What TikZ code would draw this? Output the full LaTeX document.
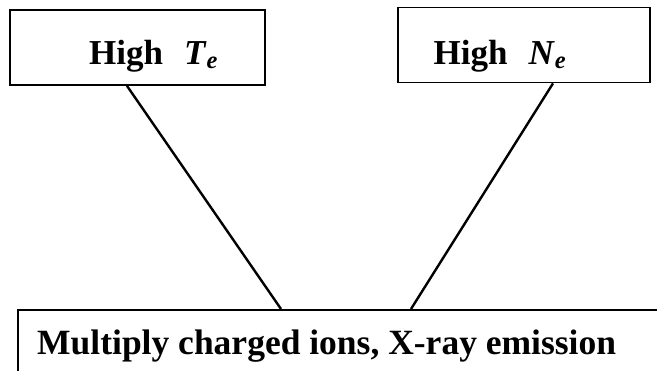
\documentclass[tikz,border=0pt]{standalone}
\usepackage{fontspec}
\setmainfont{Liberation Serif}
\usetikzlibrary{positioning}

\begin{document}
\begin{tikzpicture}[x=1pt, y=-1pt,
        box/.style={rectangle, draw=black, line width=1.8pt, inner sep=0pt},
        lbl/.style={font=\fontsize{35}{42}\selectfont\bfseries, inner sep=0pt},
        link/.style={line width=2.4pt, black}]
      \useasboundingbox (0,0) rectangle (657,371);
      \clip (0,0) rectangle (657,371);
      % parameter boxes
      \node[box, minimum width=255pt, minimum height=75pt] (te) at (137.5,47.5) {};
      \node[box, minimum width=252pt, minimum height=75pt] (ne) at (524,45) {};
      \node[lbl] (tetxt) at ([xshift=16pt,yshift=-8.5pt]te.center) {High\hspace{0.6em}\textit{T}\textsubscript{\textit{e}}};
      \node[lbl] (netxt) at ([xshift=-24pt,yshift=-11pt]ne.center) {High\hspace{0.6em}\textit{N}\textsubscript{\textit{e}}};
      % result box, runs off the page
      \node[box, anchor=north west, minimum width=680pt, minimum height=72pt] (ions) at (17,309) {};
      \node[lbl, font=\fontsize{35.5}{42}\selectfont\bfseries, anchor=west] (ionstxt)
        at ([xshift=20pt]ions.west) {Multiply charged ions, X-ray emission};
      \draw[link] ([xshift=-10.5pt]te.south) -- ([xshift=264pt]ions.north west);
      \draw[link] ([xshift=29pt]ne.south) -- ([xshift=394pt]ions.north west);
    \end{tikzpicture}
\end{document}
